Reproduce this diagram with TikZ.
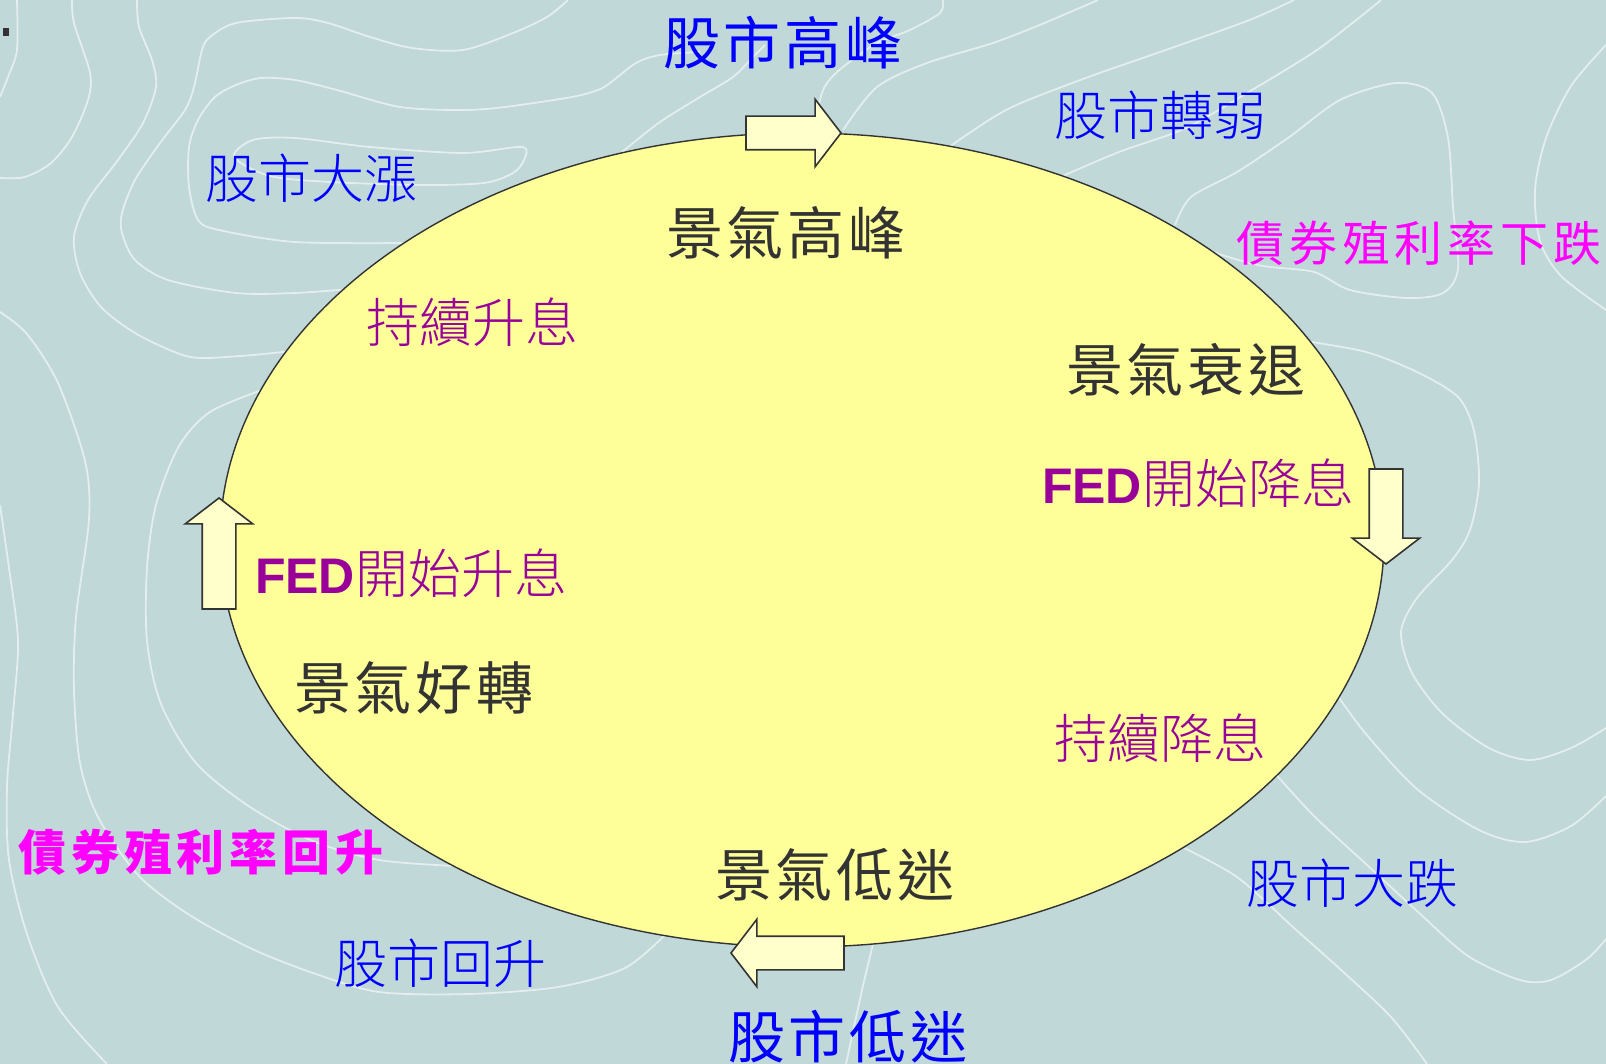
\documentclass[tikz,border=0pt]{standalone}
\usepackage{fontspec}
\setmainfont{Noto Sans CJK TC}
\newfontfamily\mingfont{Noto Sans CJK TC}[UprightFont=* Light]
\newfontfamily\kaifont[LetterSpace=7]{Noto Sans CJK TC}
\newfontfamily\bondfont[LetterSpace=10]{Noto Sans CJK TC}
\newfontfamily\fedfont{Liberation Sans}
\usetikzlibrary{shapes.geometric,shapes.arrows}

\definecolor{bgteal}{HTML}{C0D8D8}
\definecolor{contourline}{HTML}{E4EEEE}
\definecolor{ovalfill}{HTML}{FFFF99}
\definecolor{arrowfill}{HTML}{FFFFCC}
\definecolor{outline}{HTML}{333333}
\definecolor{stockblue}{HTML}{0000FF}
\definecolor{bondpink}{HTML}{FF00FF}
\definecolor{fedpurple}{HTML}{990099}
\definecolor{phasegray}{HTML}{333333}

\begin{document}
\begin{tikzpicture}[x=1pt,y=-1pt,
    contour/.style={draw=contourline, line width=1.8pt},
    turnarrow/.style={single arrow, draw=outline, fill=arrowfill, line width=1.6pt,
        inner xsep=0pt, inner ysep=16pt, outer sep=0pt, minimum width=0pt,
        single arrow head extend=17pt, single arrow tip angle=105, anchor=tip},
    stocklabel/.style={text=stockblue, inner sep=0pt, font=\mingfont\fontsize{53}{56}\selectfont},
    stockbig/.style={text=stockblue, inner sep=0pt, font=\kaifont\fontsize{57}{60}\selectfont},
    phaselabel/.style={text=phasegray, inner sep=0pt, font=\kaifont\fontsize{57}{60}\selectfont},
    ratelabel/.style={text=fedpurple, inner sep=0pt, font=\mingfont\fontsize{53}{56}\selectfont},
    bondlabel/.style={text=bondpink, inner sep=0pt, font=\bondfont\fontsize{48}{50}\selectfont}]
    \fill[bgteal] (0,0) rectangle (1606,1064);
    \useasboundingbox (0,0) rectangle (1606,1064);
    \fill[outline] (3,28) rectangle (9,36);

    % contour lines in the background
    \draw[contour] plot[smooth] coordinates {(17,0) (17,50) (8,77) (0,97)};
    \draw[contour] plot[smooth] coordinates {(72,0) (74,23) (90,73) (88,100) (72,137) (51,163) (25,177) (0,178)};
    \draw[contour] plot[smooth] coordinates {(137,0) (139,27) (152,60) (156,87) (143,123) (118,160) (88,200) (74,237) (80,273) (101,307) (135,333) (177,353) (202,358) (253,355) (300,350)};
    \draw[contour] plot[smooth] coordinates {(568,0) (547,17) (513,33) (463,50) (412,48) (370,37) (328,23) (295,18) (236,23) (210,37) (202,50) (194,87) (185,110) (160,143) (135,180) (122,213) (122,233) (135,260) (168,280) (236,293) (295,293) (350,289)};
    \draw[contour] plot[smooth] coordinates {(700,52) (660,55) (636,63) (610,83) (598,90) (572,97) (505,107) (463,110) (400,107) (337,90) (295,80) (261,78) (236,85) (215,97) (198,120) (189,147) (189,187) (198,220) (219,230) (295,242) (410,243)};
    \draw[contour] plot[smooth cycle] coordinates {(234,157) (253,140) (295,138) (370,147) (463,153) (522,147) (524,160) (513,173) (484,183) (421,185) (330,182) (270,176)};
    \draw[contour] plot[smooth] coordinates {(622,152) (660,122) (700,97) (733,77) (752,58) (765,45)};
    \draw[contour] plot[smooth] coordinates {(943,0) (940,13) (910,30) (877,43) (843,67) (827,83) (820,100) (815,135)};
    \draw[contour] plot[smooth] coordinates {(843,130) (877,87) (927,63) (993,43) (1042,24) (1098,0)};
    \draw[contour] plot[smooth] coordinates {(945,150) (1006,110) (1083,79) (1160,52) (1247,21) (1294,0)};
    \draw[contour] plot[smooth] coordinates {(1058,178) (1119,152) (1186,128) (1252,90) (1314,52) (1355,21) (1381,0)};
    \draw[contour] plot[smooth] coordinates {(1175,225) (1191,197) (1237,172) (1288,138) (1340,100) (1396,83) (1432,93) (1448,138) (1453,207) (1458,269) (1443,293) (1407,298) (1350,290) (1314,272) (1263,266) (1222,255) (1198,245)};
    \draw[contour] plot[smooth] coordinates {(1606,45) (1571,86) (1546,138) (1535,190) (1540,241) (1561,276) (1606,310)};
    \draw[contour] plot[smooth] coordinates {(1305,341) (1366,352) (1417,372) (1458,397) (1474,431) (1479,483) (1470,530) (1452,560) (1417,598) (1401,632) (1412,673) (1443,714) (1489,748) (1530,760) (1571,748) (1606,728)};
    \draw[contour] plot[smooth] coordinates {(1335,692) (1366,734) (1417,789) (1479,830) (1525,842) (1571,826) (1606,796)};
    \draw[contour] plot[smooth] coordinates {(1272,770) (1314,816) (1366,864) (1417,911) (1468,956) (1520,980) (1551,980) (1587,959) (1606,939)};
    \draw[contour] plot[smooth] coordinates {(1178,845) (1237,877) (1294,928) (1340,969) (1391,1017) (1427,1064)};
    \draw[contour] plot[smooth] coordinates {(874,940) (862,990) (846,1064)};
    \draw[contour] plot[smooth] coordinates {(0,312) (27,334) (58,383) (85,461) (89,519) (76,617) (74,690) (80,763) (98,817) (138,875) (188,914) (250,948) (313,973) (379,992) (469,994) (558,987) (625,968) (668,932)};
    \draw[contour] plot[smooth] coordinates {(0,505) (9,568) (18,641) (13,714) (7,787) (9,860) (27,934) (58,1007) (107,1064)};
    \draw[contour] plot[smooth] coordinates {(262,390) (210,412) (179,446) (156,505) (147,568) (147,641) (161,704) (196,763) (250,807) (313,841) (379,860) (455,866)};

    % the business cycle
    \node (economy) [ellipse, draw=outline, fill=ovalfill, line width=1.4pt, inner sep=0pt,
        minimum width=1164pt, minimum height=814pt] at (802,540) {};

    \node (toppeak) [turnarrow, minimum height=95pt] at (841,133) {};
    \node (toprecess) [turnarrow, minimum height=95pt, rotate=-90] at (1386,564) {};
    \node (tolow) [turnarrow, minimum height=113pt, rotate=180] at (731,953) {};
    \node (torise) [turnarrow, minimum height=111pt, rotate=90] at (219,498) {};

    % phases of the economy
    \node[phaselabel] (peakecon) at (786,233) {景氣高峰};
    \node[phaselabel] (recession) at (1186,370) {景氣衰退};
    \node[phaselabel] (trough) at (835,875) {景氣低迷};
    \node[phaselabel] (recovery) at (414,688) {景氣好轉};

    % interest rates
    \node[ratelabel] (hikeon) at (472,322) {持續升息};
    \node[ratelabel] (fedcut) at (1198,483) {{\fedfont\bfseries\fontsize{50}{52}\selectfont FED}開始降息};
    \node[ratelabel] (cuton) at (1160,738) {持續降息};
    \node[ratelabel] (fedhike) at (411,573) {{\fedfont\bfseries\fontsize{50}{52}\selectfont FED}開始升息};

    % bond yields
    \node[bondlabel] (bondfall) at (1419,243) {債券殖利率下跌};
    \node[bondlabel, font=\bondfont\bfseries\fontsize{48}{50}\selectfont] (bondrise) at (201,852) {債券殖利率回升};

    % stock market
    \node[stockbig] (peakstock) at (783,43) {股市高峰};
    \node[stocklabel] (weakstock) at (1160,115) {股市轉弱};
    \node[stocklabel] (boomstock) at (311,178) {股市大漲};
    \node[stocklabel] (crashstock) at (1352,883) {股市大跌};
    \node[stocklabel] (reboundstock) at (440,963) {股市回升};
    \node[stockbig] (lowstock) at (848,1037) {股市低迷};
\end{tikzpicture}
\end{document}
